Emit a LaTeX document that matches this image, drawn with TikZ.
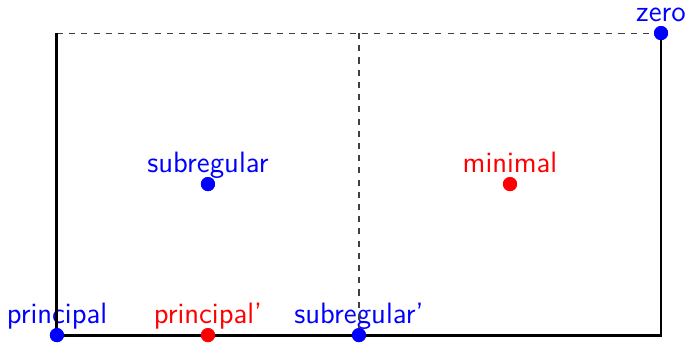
\documentclass[tikz,border=0pt]{standalone}
\begin{document}
\begin{tikzpicture}[x=2cm,y=2cm,
    dot/.style={circle,fill=#1,inner sep=0pt,minimum size=5.3pt},
    tag/.style={#1,font=\sffamily\fontsize{11.1pt}{13pt}\selectfont,inner sep=0pt,text depth=0.12em},
    guide/.style={black!75,line width=0.4pt,dash pattern=on 2.3pt off 2.3pt}]
    \useasboundingbox (-0.377,-0.060) rectangle (4.172,2.219);
    \coordinate (tl) at (0,2);
    \coordinate (tm) at (2,2);
    \coordinate (br) at (4,0);
    \node[dot=blue,label={[tag=blue]above:principal}] (prin) at (0,0) {};
    \node[dot=red,label={[tag=red]above:principal'}] (prinp) at (1,0) {};
    \node[dot=blue,label={[tag=blue]above:subregular'}] (subrp) at (2,0) {};
    \node[dot=blue,label={[tag=blue]above:subregular}] (subr) at (1,1) {};
    \node[dot=red,label={[tag=red]above:minimal}] (mini) at (3,1) {};
    \node[dot=blue,label={[tag=blue]above:zero}] (zero) at (4,2) {};
    \draw[guide] (tl) -- (zero.center);
    \draw[guide] (tm) -- (subrp.center);
    \draw[line width=1.1pt] (tl) -- (prin.center) -- (br) -- (zero.center);
    % dots again, on top of the lines
    \foreach \n/\c in {prin/blue,prinp/red,subrp/blue,subr/blue,mini/red,zero/blue}
        \fill[\c] (\n) circle (2.65pt);
\end{tikzpicture}
\end{document}
